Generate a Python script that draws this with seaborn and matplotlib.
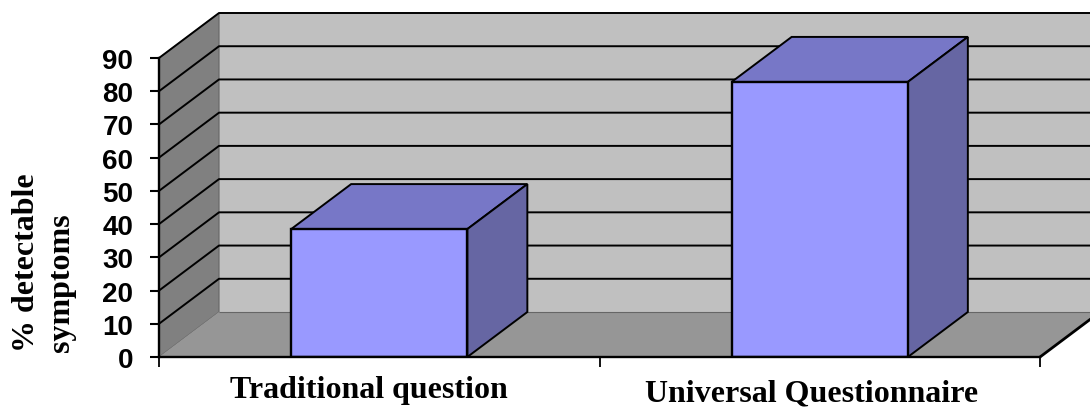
import matplotlib
matplotlib.use("Agg")
import matplotlib.pyplot as plt
from matplotlib.patches import Polygon
from matplotlib.transforms import ScaledTranslation
import seaborn as sns

categories = ["Traditional question", "Universal Questionnaire"]
detectable = [38.5, 82.8]
y_ticks = [0, 10, 20, 30, 40, 50, 60, 70, 80, 90]
y_axis_title = "% detectable\nsymptoms"

WALL = "#C0C0C0"
SIDE_WALL = "#808080"
FLOOR = "#969696"
BAR_FRONT = "#9999FF"
BAR_TOP = "#7777C7"
BAR_SIDE = "#6666A3"

W, H, DPI = 1090, 407, 100
LEFT, RIGHT, BASE, TOP = 159, 1040, 357, 58
DEPTH_PX = (60, 45)
BAR_WIDTH = 0.4

sns.set_theme(style="white")
plt.rcParams["font.family"] = ["Liberation Sans", "DejaVu Sans"]

fig = plt.figure(figsize=(W / DPI, H / DPI), dpi=DPI, facecolor="white")
ax = fig.add_axes([LEFT / W, (H - BASE) / H, (RIGHT - LEFT) / W, (BASE - TOP) / H])
ax.patch.set_visible(False)

sns.barplot(x=categories, y=detectable, width=BAR_WIDTH, color=BAR_FRONT,
            saturation=1, edgecolor="black", linewidth=1.7, ax=ax, zorder=5)

x0, x1 = -0.5, 1.5
y0, y1 = y_ticks[0], y_ticks[-1]
ax.set_xlim(x0, x1)
ax.set_ylim(y0, y1)

# Oblique projection depth expressed in data units
dx = DEPTH_PX[0] * (x1 - x0) / (RIGHT - LEFT)
dy = DEPTH_PX[1] * (y1 - y0) / (BASE - TOP)


def face(points, color, edge="none", lw=0.0, z=1):
    ax.add_patch(Polygon(points, closed=True, facecolor=color, edgecolor=edge,
                         linewidth=lw, clip_on=False, zorder=z))


# Chart box: back wall, side wall and floor
face([(x0 + dx, y0 + dy), (x1 + dx, y0 + dy), (x1 + dx, y1 + dy), (x0 + dx, y1 + dy)], WALL)
face([(x0, y0), (x0 + dx, y0 + dy), (x0 + dx, y1 + dy), (x0, y1)], SIDE_WALL, "#666666", 0.8)
face([(x0, y0), (x1, y0), (x1 + dx, y0 + dy), (x0 + dx, y0 + dy)], FLOOR)

line = dict(clip_on=False, solid_capstyle="butt")
ax.plot([x0 + dx, x1 + dx], [y0 + dy] * 2, color="#666666", lw=0.8, zorder=2, **line)
ax.plot([x1, x1 + dx], [y0, y0 + dy], color="black", lw=2.0, zorder=2, **line)

# Gridlines run along the side wall and across the back wall
for tick in y_ticks[1:]:
    ax.plot([x0, x0 + dx, x1 + dx], [tick, tick + dy, tick + dy],
            color="black", lw=1.4, zorder=2, **line)

# Depth faces of each bar
half = BAR_WIDTH / 2
for pos, value in enumerate(detectable):
    l, r = pos - half, pos + half
    face([(l, value), (r, value), (r + dx, value + dy), (l + dx, value + dy)],
         BAR_TOP, "black", 1.4, 4)
    face([(r, 0), (r + dx, dy), (r + dx, value + dy), (r, value)],
         BAR_SIDE, "black", 1.4, 4)

for side in ("top", "right"):
    ax.spines[side].set_visible(False)
for side in ("left", "bottom"):
    ax.spines[side].set_visible(True)
    ax.spines[side].set_color("black")
    ax.spines[side].set_linewidth(1.7)
    ax.spines[side].set_zorder(6)

ax.set_yticks(y_ticks)
ax.set_yticklabels([str(t) for t in y_ticks], fontsize=20, fontweight="bold",
                   color="black", family=["Liberation Sans"])
ax.tick_params(axis="y", direction="out", length=6.5, width=1.5, color="black",
               pad=12, left=True)
for label in ax.get_yticklabels():
    label.set_transform(label.get_transform()
                        + ScaledTranslation(0, -1 / DPI, fig.dpi_scale_trans))

# Boundary ticks between categories, labels centred through minor ticks
ax.set_xticks([x0, (x0 + x1) / 2, x1])
ax.set_xticklabels([])
ax.tick_params(axis="x", which="major", direction="out", length=7, width=1.3,
               color="black", bottom=True)
ax.set_xticks(range(len(categories)), minor=True)
ax.set_xticklabels(categories, minor=True, fontsize=23, fontweight="bold",
                   color="black", family=["Liberation Serif"])
ax.tick_params(axis="x", which="minor", length=0, pad=16, bottom=False)

shifts = [(-10, 3), (-8, 0)]
for label, (sx, sy) in zip(ax.get_xticklabels(minor=True), shifts):
    label.set_transform(label.get_transform()
                        + ScaledTranslation(sx / DPI, sy / DPI, fig.dpi_scale_trans))

fig.text(44 / W, 1 - 352 / H, y_axis_title, rotation=90, ha="center", va="bottom",
         fontsize=23, fontweight="bold", color="black",
         family=["Liberation Serif"], linespacing=1.28, multialignment="left")

fig.savefig("out.png", dpi=DPI, facecolor="white")
